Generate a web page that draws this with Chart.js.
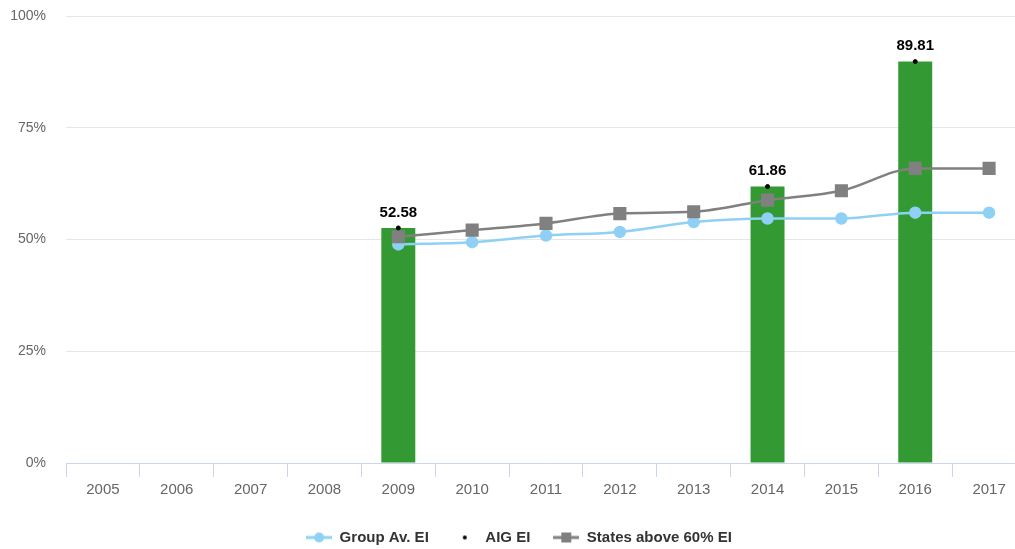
<!DOCTYPE html>
<html>
<head>
<meta charset="utf-8">
<script src="https://cdn.jsdelivr.net/npm/chart.js@4"></script>
<style>
  html, body { margin: 0; padding: 0; background: #fff; overflow: hidden; }
  canvas { display: block; }
</style>
</head>
<body>
<canvas id="myChart" width="1026" height="549" style="width:1026px;height:549px"></canvas>
<script>
const years = ['2005', '2006', '2007', '2008', '2009', '2010', '2011', '2012', '2013', '2014', '2015', '2016', '2017'];
const groupAv = [null, null, null, null, 48.9, 49.4, 50.9, 51.7, 53.9, 54.7, 54.7, 56.0, 56.0];
const aigEI = [null, null, null, null, 52.58, null, null, null, null, 61.86, null, 89.81, null];
const statesAbove = [null, null, null, null, 50.6, 52.1, 53.6, 55.8, 56.2, 58.8, 60.9, 65.9, 65.9];
const yTicks = [0, 25, 50, 75, 100];

const FONT = '"Liberation Sans", Arial, sans-serif';

// legend symbols: line with a marker in the middle
function legendSymbol(color, shape) {
    const c = document.createElement('canvas');
    c.width = 26; c.height = 14;
    const g = c.getContext('2d');
    if (shape !== 'dot') {
        g.strokeStyle = color;
        g.lineWidth = 3;
        g.beginPath(); g.moveTo(0, 7); g.lineTo(26, 7); g.stroke();
    }
    g.fillStyle = color;
    if (shape === 'circle') {
        g.beginPath(); g.arc(13, 7, 5, 0, Math.PI * 2); g.fill();
    } else if (shape === 'square') {
        g.fillRect(8, 2, 10, 10);
    } else {
        g.beginPath(); g.arc(13, 7, 2, 0, Math.PI * 2); g.fill();
    }
    return c;
}
const symbols = [
    legendSymbol('#8fd0f5', 'circle'),
    legendSymbol('#000000', 'dot'),
    legendSymbol('#808080', 'square')
];

// plot runs out to the canvas edge (the picture is cut on the right)
const stretchArea = {
    id: 'stretchArea',
    afterLayout(chart) {
        const area = chart.chartArea;
        const x = chart.scales.x;
        area.right = chart.width;
        area.width = area.right - area.left;
        x.right = chart.width;
        x.width = x.right - x.left;
        x.configure();
        if (chart.legend) {
            chart.legend.left += 6;
            chart.legend.right += 6;
        }
    }
};

const valueLabels = {
    id: 'valueLabels',
    afterDatasetsDraw(chart) {
        const meta = chart.getDatasetMeta(1);
        const ctx = chart.ctx;
        ctx.save();
        ctx.font = 'bold 15px ' + FONT;
        ctx.textAlign = 'center';
        ctx.textBaseline = 'bottom';
        ctx.lineJoin = 'round';
        meta.data.forEach((pt, i) => {
            const v = aigEI[i];
            if (v === null) return;
            const txt = v.toFixed(2);
            ctx.lineWidth = 3;
            ctx.strokeStyle = '#ffffff';
            ctx.strokeText(txt, pt.x, pt.y - 8);
            ctx.fillStyle = '#000000';
            ctx.fillText(txt, pt.x, pt.y - 8);
        });
        ctx.restore();
    }
};

const ctx = document.getElementById('myChart');

new Chart(ctx, {
    type: 'bar',
    data: {
        labels: years,
        datasets: [
            {
                type: 'line',
                label: 'Group Av. EI',
                data: groupAv,
                borderColor: '#8fd0f5',
                backgroundColor: '#8fd0f5',
                borderWidth: 2.5,
                pointRadius: 5,
                pointStyle: 'circle',
                cubicInterpolationMode: 'monotone',
                order: 2
            },
            {
                type: 'line',
                label: 'AIG EI',
                data: aigEI,
                showLine: false,
                borderColor: '#000000',
                backgroundColor: '#000000',
                pointRadius: 2,
                order: 0
            },
            {
                type: 'line',
                label: 'States above 60% EI',
                data: statesAbove,
                borderColor: '#808080',
                backgroundColor: '#808080',
                borderWidth: 2.5,
                pointRadius: 7.5,
                pointStyle: 'rect',
                cubicInterpolationMode: 'monotone',
                order: 1
            },
            {
                type: 'bar',
                label: 'AIG EI bar',
                data: aigEI,
                backgroundColor: '#339933',
                barPercentage: 0.46,
                categoryPercentage: 1,
                order: 10
            }
        ]
    },
    options: {
        responsive: false,
        animation: false,
        layout: { padding: { top: 16, right: 0, left: 0, bottom: -6 } },
        plugins: {
            tooltip: { enabled: false },
            legend: {
                position: 'bottom',
                labels: {
                    usePointStyle: true,
                    pointStyleWidth: 26,
                    color: '#333333',
                    font: { family: FONT, size: 15, weight: 'bold' },
                    padding: 23,
                    filter: item => item.datasetIndex < 3,
                    sort: (a, b) => a.datasetIndex - b.datasetIndex,
                    generateLabels(chart) {
                        const items = Chart.defaults.plugins.legend.labels.generateLabels(chart);
                        items.forEach(it => {
                            if (it.datasetIndex < 3) it.pointStyle = symbols[it.datasetIndex];
                        });
                        return items;
                    }
                }
            }
        },
        scales: {
            x: {
                afterFit(scale) {
                    scale.height = 44;
                    scale.paddingLeft = 0;
                    scale.paddingRight = 0;
                },
                grid: {
                    offset: true,
                    drawOnChartArea: false,
                    color: '#ccd6eb',
                    tickLength: 14
                },
                border: { color: '#ccd6eb' },
                ticks: {
                    color: '#666666',
                    font: { family: FONT, size: 15 },
                    padding: 4
                }
            },
            y: {
                min: 0,
                max: 100,
                afterBuildTicks(scale) {
                    scale.ticks = yTicks.map(v => ({ value: v }));
                },
                afterFit(scale) {
                    scale.width = 66;
                    scale.paddingTop = 0;
                    scale.paddingBottom = 0;
                },
                grid: { color: '#e6e6e6', drawTicks: false },
                border: { display: false },
                ticks: {
                    color: '#666666',
                    font: { family: FONT, size: 14 },
                    padding: 20,
                    callback: v => v + '%'
                }
            }
        }
    },
    plugins: [stretchArea, valueLabels]
});
</script>
</body>
</html>
